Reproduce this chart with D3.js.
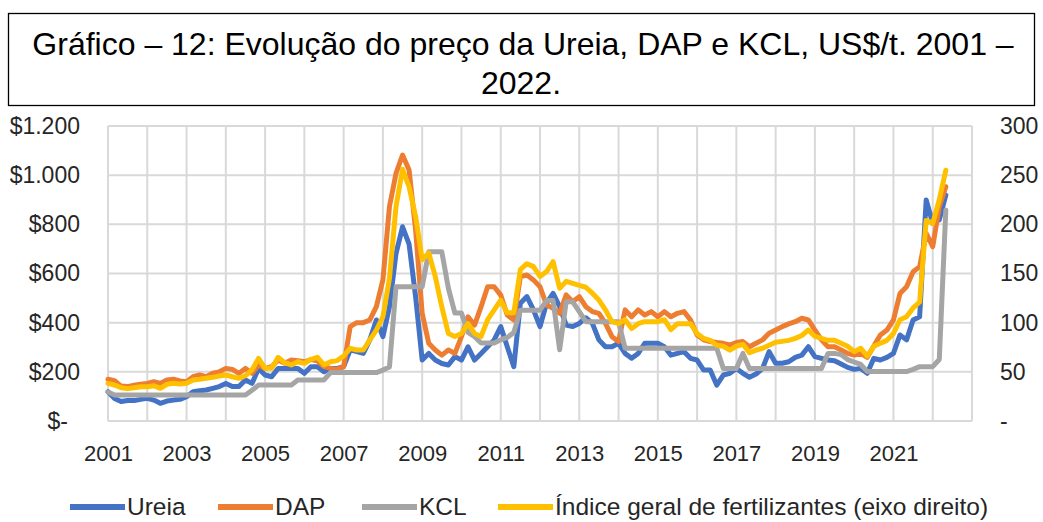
<!DOCTYPE html>
<html>
<head>
<meta charset="utf-8">
<script src="https://cdn.jsdelivr.net/npm/d3@7"></script>
<style>
  body { margin: 0; background: #fff; }
  svg text { font-family: "Liberation Sans", Arial, sans-serif; }
</style>
</head>
<body>
<svg id="chart"></svg>
<script>
// bimonthly readings, Jan 2001 .. May 2022
var firstYear = 2001, stepsPerYear = 6;

var ureia = [
  119,92,79,83,83,88,
  92,85,72,81,85,88,
  99,119,123,126,133,140,
  153,140,140,167,153,214,
  187,180,214,214,214,214,
  194,221,221,200,214,214,
  221,289,282,275,330,411,
  343,465,681,790,719,505,
  248,275,248,234,228,262,
  248,302,248,275,302,330,
  384,302,221,479,506,452,
  384,479,519,465,390,384,
  397,420,397,330,302,302,
  316,275,255,275,316,316,
  316,302,268,275,282,255,
  248,207,207,146,187,194,
  214,194,178,191,214,282,
  235,235,241,259,268,302,
  262,255,248,245,232,218,
  210,214,194,255,248,259,
  275,350,330,411,424,899,
  804,818,919];

var dap = [
  170,164,142,140,146,150,
  153,160,153,167,170,163,
  160,180,187,180,194,200,
  214,210,194,214,194,228,
  214,221,248,235,248,245,
  241,250,245,221,214,210,
  221,384,400,400,411,465,
  574,872,1007,1082,1021,777,
  438,316,289,268,289,275,
  343,424,390,465,546,546,
  512,431,411,587,594,574,
  546,472,458,438,513,485,
  506,465,445,438,397,343,
  323,452,424,452,431,445,
  424,445,424,438,445,411,
  350,330,323,319,316,309,
  319,323,302,316,330,357,
  370,384,395,404,418,411,
  370,330,302,302,289,275,
  268,275,259,305,350,370,
  411,519,546,607,628,763,
  709,872,953];

var kcl = [
  118,106,106,106,106,106,
  106,106,106,106,106,106,
  106,106,106,106,106,106,
  106,106,106,106,125,146,
  146,146,146,146,146,167,
  167,167,167,167,197,197,
  197,197,197,197,197,197,
  207,220,546,546,546,546,
  546,688,688,688,540,439,
  439,360,343,317,317,317,
  330,340,360,451,451,451,
  451,490,490,290,485,485,
  445,404,404,404,404,404,
  404,296,296,296,296,296,
  296,296,296,296,296,296,
  296,296,296,296,214,214,
  214,275,214,214,214,214,
  214,214,214,214,214,214,
  214,214,275,275,270,250,
  240,230,201,201,201,201,
  201,201,201,210,221,221,
  221,250,858];

// right axis
var indice = [
  38.3,36.6,33.9,32.9,33.9,34.9,
  34.9,35.9,33.2,37.3,38.3,37.6,
  38.3,41.7,42.4,43.4,44.4,45.8,
  46.8,45,43.4,46,52,63.7,
  53.6,53.6,64.7,59.3,57,60.3,
  58.6,62.7,64.7,57,60.3,61.4,
  66.1,73.9,72.2,72.2,82.4,92.5,
  106,145,218,256,238,208,
  164,171,147,116,89,86,
  89,99,89,86,103,113,
  123,110,110,154,160,157,
  147,152,162,135,142,140,
  138,136,130,123,113,101,
  99,103,94,99,101,101,
  101,103,93,99,99,99,
  89,84,82,77,76,72,
  76,78,69.5,72,74,77,
  80,81,82,84,87,92.5,
  86,84,82,82,79,76,
  70.5,74,66,76,79,82,
  89,103,106,115,121,204,
  201,225,255];

var yearTicks = [2001,2003,2005,2007,2009,2011,2013,2015,2017,2019,2021];
var leftTicks = [0,200,400,600,800,1000,1200];
var rightTicks = [0,50,100,150,200,250,300];
var seriesNames = ["Ureia","DAP","KCL","Índice geral de fertilizantes (eixo direito)"];
var colors = ["#4472C4","#ED7D31","#A5A5A5","#FFC000"];

var width = 1043, height = 522;
var margin = {top: 126, right: 71, bottom: 101, left: 108};

var svg = d3.select("#chart").attr("width", width).attr("height", height);

// title box
svg.append("rect")
   .attr("x", 8.5).attr("y", 13.5)
   .attr("width", 1026).attr("height", 92)
   .style("fill", "none").style("stroke", "#000").style("stroke-width", 1.3);

svg.append("text").attr("x", 523).attr("y", 55)
   .attr("text-anchor", "middle").style("font-size", "32px").style("fill", "#000")
   .text("Gráfico – 12: Evolução do preço da Ureia, DAP e KCL, US$/t. 2001 –");
svg.append("text").attr("x", 521).attr("y", 94)
   .attr("text-anchor", "middle").style("font-size", "32px").style("fill", "#000")
   .text("2022.");

var x = d3.scaleLinear().domain([2001, 2023]).range([margin.left, width - margin.right]);
var yL = d3.scaleLinear().domain([0, 1200]).range([height - margin.bottom, margin.top]);
var yR = d3.scaleLinear().domain([0, 300]).range([height - margin.bottom, margin.top]);

// grid
var grid = svg.append("g").style("stroke", "#d9d9d9").style("stroke-width", 2);
grid.selectAll(".vg").data(d3.range(2001, 2024)).enter().append("line")
    .attr("x1", function(d) { return x(d); }).attr("x2", function(d) { return x(d); })
    .attr("y1", yL(0)).attr("y2", yL(1200));
grid.selectAll(".hg").data(leftTicks).enter().append("line")
    .attr("x1", x(2001)).attr("x2", x(2023))
    .attr("y1", function(d) { return yL(d); }).attr("y2", function(d) { return yL(d); });

// axes
var leftAxis = svg.append("g")
   .attr("transform", "translate(" + margin.left + ",0)")
   .call(d3.axisLeft(yL).tickValues(leftTicks).tickSize(0).tickPadding(28)
     .tickFormat(function(d) { return d === 0 ? "$-" : "$" + d3.format(",")(d).replace(",", "."); }));
leftAxis.selectAll("text").filter(function(d) { return d === 0; }).attr("x", -40);

var rightAxis = svg.append("g")
   .attr("transform", "translate(" + (width - margin.right) + ",0)")
   .call(d3.axisRight(yR).tickValues(rightTicks).tickSize(0).tickPadding(28)
     .tickFormat(function(d) { return d === 0 ? "-" : d; }));

var bottomAxis = svg.append("g")
   .attr("transform", "translate(0," + (height - margin.bottom) + ")")
   .call(d3.axisBottom(x).tickValues(yearTicks).tickSize(0).tickPadding(24).tickFormat(d3.format("d")));

[leftAxis, rightAxis, bottomAxis].forEach(function(a) {
  a.select(".domain").remove();
  a.selectAll("text").style("font-size", "23px").style("fill", "#262626")
   .style("font-family", "'Liberation Sans', Arial, sans-serif");
});
bottomAxis.selectAll("text").style("font-size", "22px");

// lines
function lineFor(scale) {
  return d3.line()
    .x(function(d, i) { return x(firstYear + i / stepsPerYear); })
    .y(function(d) { return scale(d); });
}
var allSeries = [
  {values: ureia, scale: yL},
  {values: dap, scale: yL},
  {values: kcl, scale: yL},
  {values: indice, scale: yR}
];
allSeries.forEach(function(s, i) {
  svg.append("path")
     .datum(s.values)
     .attr("d", lineFor(s.scale))
     .style("fill", "none")
     .style("stroke", colors[i])
     .style("stroke-width", 5)
     .style("stroke-linejoin", "round")
     .style("stroke-linecap", "round");
});

// legend
var legendX = [70, 218, 362, 498];
var legend = svg.append("g");
seriesNames.forEach(function(name, i) {
  legend.append("line")
     .attr("x1", legendX[i]).attr("x2", legendX[i] + 55)
     .attr("y1", 507).attr("y2", 507)
     .style("stroke", colors[i]).style("stroke-width", 6);
  legend.append("text")
     .attr("x", legendX[i] + 57).attr("y", 515)
     .style("font-size", "24.5px").style("fill", "#262626")
     .text(name);
});
</script>
</body>
</html>
